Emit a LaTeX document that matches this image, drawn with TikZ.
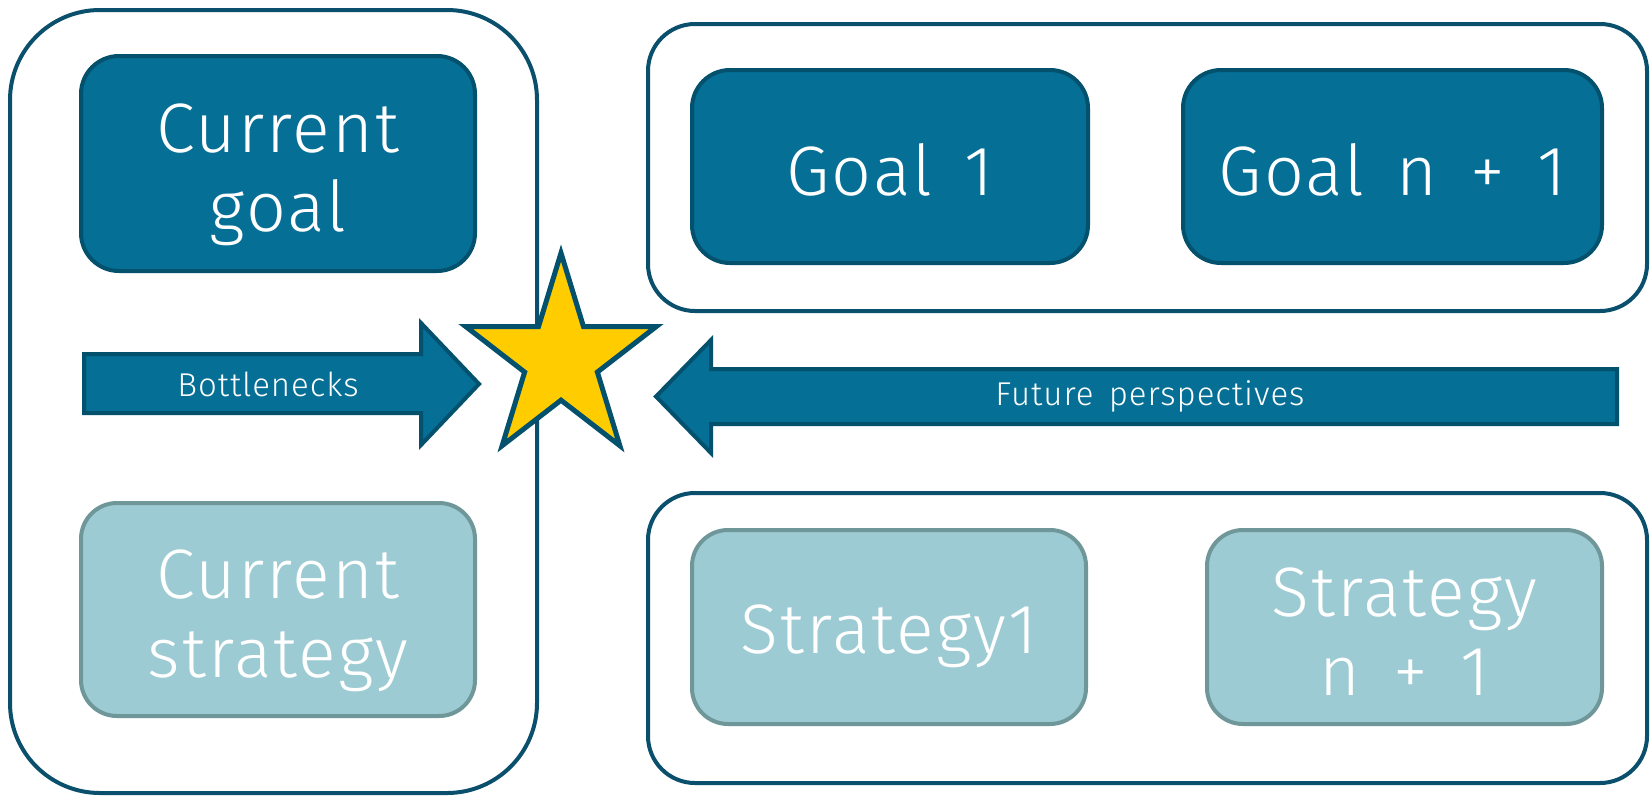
\documentclass[tikz,border=0pt]{standalone}
\usepackage{fontspec}
\IfFontExistsTF{Fira Sans Light}{\setmainfont{Fira Sans Light}[LetterSpace=3,WordSpace=1.5]}{%
  \IfFontExistsTF{Lato Light}{\setmainfont{Lato Light}[LetterSpace=3,WordSpace=1.5]}{\setmainfont{Lato}[LetterSpace=3,WordSpace=1.5]}}
\usetikzlibrary{shapes.geometric}
\definecolor{darkfill}{HTML}{056F96}
\definecolor{darkline}{HTML}{04516E}
\definecolor{outline}{HTML}{0A4F6B}
\definecolor{lightfill}{HTML}{9DCBD3}
\definecolor{lightline}{HTML}{6F9699}
\definecolor{staryellow}{HTML}{FFCC00}
\begin{document}
\begin{tikzpicture}[x=1pt,y=-1pt,
  outerbox/.style={draw=outline, line width=4pt, fill=white, rounded corners=#1, inner sep=0pt},
  darkbox/.style={draw=darkline, line width=4pt, fill=darkfill, rounded corners=38pt, inner sep=0pt},
  lightbox/.style={draw=lightline, line width=4pt, fill=lightfill, rounded corners=36pt, inner sep=0pt},
  boxtext/.style={inner sep=0pt, align=center, text=white, font=\fontsize{70}{79}\selectfont},
  blockarrow/.style={draw=darkline, line width=4pt, fill=darkfill, line join=miter},
  arrowtext/.style={text=white, font=\fontsize{33}{39}\selectfont, inner sep=0pt}]
\useasboundingbox (0,0) rectangle (1652,796);
% outer frames
\node[outerbox=90pt, minimum width=527pt, minimum height=783pt] (outerL) at (273.5,401.5) {};
\node[outerbox=47pt, minimum width=999pt, minimum height=287pt] (outerTR) at (1147.5,167.5) {};
\node[outerbox=47pt, minimum width=999pt, minimum height=290pt] (outerBR) at (1147.5,638) {};
% left column
\node[darkbox, minimum width=394pt, minimum height=215pt] (curGoal) at (278,163.5) {};
\node[boxtext] (curGoalT) at ([yshift=-11pt]curGoal.center) {Current\\goal};
\node[lightbox, minimum width=394pt, minimum height=213pt] (curStrat) at (278,609.5) {};
\node[boxtext] (curStratT) at ([yshift=-11pt]curStrat.center) {Current\\strategy};
% goals
\node[darkbox, minimum width=396pt, minimum height=193pt] (goal1) at (890,166.5) {};
\node[boxtext] (goal1T) at ([yshift=-3pt]goal1.center) {Goal 1};
\node[darkbox, minimum width=419pt, minimum height=193pt] (goalN) at (1392.5,166.5) {};
\node[boxtext] (goalNT) at ([yshift=-3pt]goalN.center) {Goal n + 1};
% strategies
\node[lightbox, minimum width=394pt, minimum height=194pt] (strat1) at (889,627) {};
\node[boxtext] (strat1T) at ([yshift=-9pt]strat1.center) {Strategy1};
\node[lightbox, minimum width=395pt, minimum height=194pt] (stratN) at (1404.5,627) {};
\node[boxtext] (stratNT) at ([yshift=-5pt]stratN.center) {Strategy\\n + 1};
% block arrows
\draw[blockarrow] (84,354) -- (421,354) -- (421,323) -- (479,384) -- (421,445) -- (421,413) -- (84,413) -- cycle;
\node[arrowtext] (bneck) at (268,384) {Bottlenecks};
\draw[blockarrow] (1617,369) -- (711,369) -- (711,340) -- (656,396.5) -- (711,453) -- (711,424) -- (1617,424) -- cycle;
\node[arrowtext] (future) at (1150,396) {Future perspectives};
% star
\node[star, star points=5, star point ratio=2.618, minimum size=213pt, xscale=0.94, inner sep=0pt, draw=darkline, fill=staryellow, line width=5pt] (star) at (561,359.5) {};
\end{tikzpicture}
\end{document}
